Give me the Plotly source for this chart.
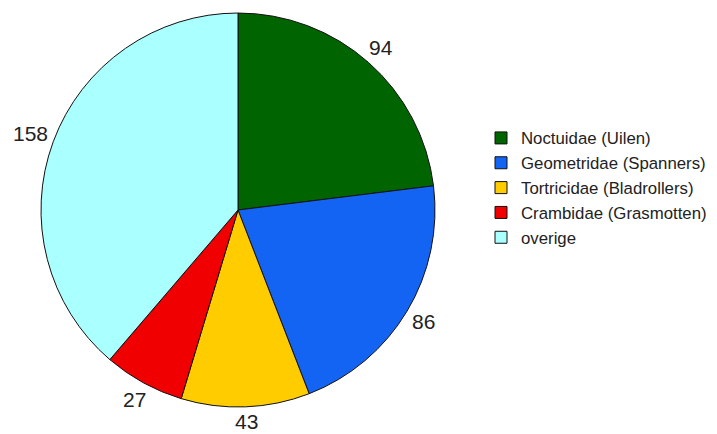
import math
import plotly.graph_objects as go

# Moth families and their counts
families = [
    "Noctuidae (Uilen)",
    "Geometridae (Spanners)",
    "Tortricidae (Bladrollers)",
    "Crambidae (Grasmotten)",
    "overige",
]
counts = [94, 86, 43, 27, 158]
colors = ["#006400", "#1464f4", "#ffcc00", "#f00000", "#aaffff"]

W, H = 717, 434
# pie domain in paper fractions
dx = [0.0572, 0.6067]
dy = [0.0622, 0.970]

fig = go.Figure(
    go.Pie(
        labels=families,
        values=counts,
        sort=False,
        direction="clockwise",
        rotation=0,
        marker=dict(colors=colors, line=dict(color="#111111", width=1)),
        textinfo="none",
        hoverinfo="label+value",
        domain=dict(x=dx, y=dy),
    )
)

# value labels placed just outside each slice, at its mid angle;
# the offset grows with the text box extent along that direction
label_size = 21
cx_px = (dx[0] + dx[1]) / 2 * W
cy_px = (1 - (dy[0] + dy[1]) / 2) * H
radius = min((dx[1] - dx[0]) * W, (dy[1] - dy[0]) * H) / 2
total = sum(counts)
cum = 0
for v in counts:
    mid = (cum + v / 2) / total * 2 * math.pi
    cum += v
    half_w = len(str(v)) * 0.556 * label_size / 2
    half_h = 0.5 * label_size
    extent = abs(half_w * math.sin(mid)) + abs(half_h * math.cos(mid))
    d = radius + 4 + extent
    px = cx_px + d * math.sin(mid)
    py = cy_px - d * math.cos(mid)
    fig.add_annotation(
        x=px / W, y=1 - py / H, xref="paper", yref="paper",
        text=str(v), showarrow=False,
        font=dict(family="Liberation Sans, Arial", size=label_size, color="#222222"),
        xanchor="center", yanchor="middle",
    )

fig.update_layout(
    width=W, height=H,
    margin=dict(l=0, r=0, t=0, b=0),
    paper_bgcolor="white",
    plot_bgcolor="white",
    showlegend=True,
    legend=dict(
        x=481 / W, y=1 - 188 / H, xanchor="left", yanchor="middle",
        font=dict(family="Liberation Sans, Arial", size=16.8, color="#222222"),
        itemwidth=30,
        bgcolor="rgba(0,0,0,0)",
    ),
)

fig.write_html("out.html")
